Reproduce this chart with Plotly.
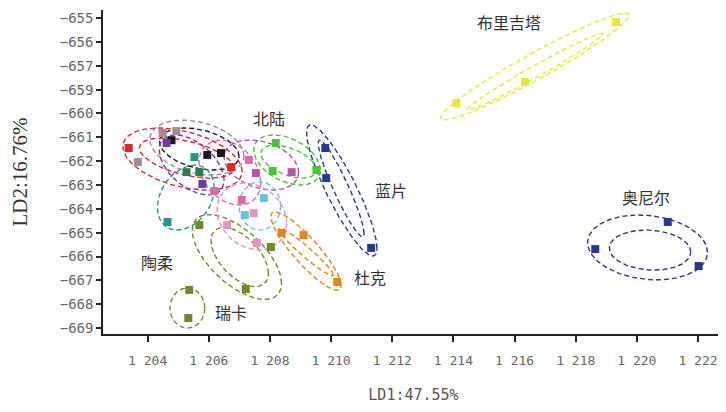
import numpy as np
import plotly.graph_objects as go

# ---------------- data (LD1, LD2 scores) ----------------
brigitta_x = [1219.32, 1216.34, 1214.10]
brigitta_y = [-655.17, -657.68, -658.56]
oneill_x = [1221.01, 1218.64, 1222.02]
oneill_y = [-663.55, -664.69, -665.40]
lanpian_x = [1209.81, 1209.84, 1211.31]
lanpian_y = [-660.45, -661.71, -664.64]
beilu_x = [1208.19, 1208.09, 1209.52]
beilu_y = [-660.24, -661.41, -661.37]
duke_x = [1208.38, 1209.10, 1210.20]
duke_y = [-664.01, -664.10, -666.07]
taorou_x = [1205.69, 1208.03, 1207.21]
taorou_y = [-663.68, -664.60, -666.36]
ruika_x = [1205.36, 1205.33]
ruika_y = [-666.40, -667.58]
red_x = [1203.38, 1206.73]
red_y = [-660.45, -661.25]
black_x = [1204.78, 1205.95, 1206.40]
black_y = [-660.12, -660.74, -660.66]
gray_x = [1203.68, 1204.49, 1204.94]
gray_y = [-661.04, -659.82, -659.74]
purple_x = [1204.62, 1205.79]
purple_y = [-660.24, -661.96]
teal_x = [1204.65, 1205.53]
teal_y = [-663.55, -660.83]
dgreen_x = [1205.27, 1205.69]
dgreen_y = [-661.46, -661.46]
pink_x = [1206.18, 1207.31, 1207.08]
pink_y = [-662.25, -660.95, -662.63]
mauve_x = [1207.54, 1208.71]
mauve_y = [-661.50, -661.46]
cyan_x = [1207.80, 1207.18]
cyan_y = [-662.55, -663.26]
lpink_x = [1207.47, 1206.60, 1207.57]
lpink_y = [-663.18, -663.68, -664.43]

# confidence ellipses: group, centre, half-extent in x / y, correlation
ell_group = ["brigitta", "brigitta", "oneill", "oneill", "lanpian", "lanpian",
             "beilu", "beilu", "duke", "duke", "taorou", "taorou", "ruika",
             "red", "red", "black", "gray", "purple", "teal", "pink", "mauve",
             "cyan", "lpink"]
ell_cx = [1216.66, 1216.68, 1220.35, 1220.43, 1210.35, 1210.33,
          1208.56, 1208.61, 1209.18, 1209.18, 1206.92, 1207.01, 1205.30,
          1205.14, 1205.27, 1205.69, 1205.61, 1205.44, 1205.25, 1206.69, 1207.72,
          1207.67, 1207.41]
ell_cy = [-657.03, -657.24, -664.62, -664.73, -662.23, -662.15,
          -660.95, -661.02, -664.77, -664.81, -665.02, -665.02, -667.16,
          -660.91, -660.87, -660.49, -660.43, -661.16, -662.53, -661.48, -661.16,
          -662.88, -663.32]
ell_rx = [3.08, 2.22, 1.96, 1.33, 1.15, 0.75,
          1.09, 0.91, 1.15, 0.89, 1.46, 0.94, 0.57,
          1.95, 1.54, 1.30, 1.54, 1.06, 0.93, 1.01, 1.22,
          0.68, 1.14]
ell_ry = [2.24, 1.61, 1.36, 0.84, 2.75, 2.03,
          1.05, 0.69, 1.64, 1.00, 1.78, 1.24, 0.84,
          1.30, 0.84, 0.88, 1.15, 1.26, 1.36, 1.36, 1.05,
          1.01, 1.40]
ell_rho = [0.96, 0.985, -0.15, -0.10, -0.88, -0.93,
           -0.40, -0.50, -0.88, -0.96, -0.62, -0.55, 0.0,
           -0.40, -0.50, -0.35, -0.30, -0.50, 0.30, -0.30, -0.30,
           0.0, -0.20]

# group labels
label_text = ["布里吉塔", "北陆", "蓝片", "奥尼尔", "陶柔", "杜克", "瑞卡"]
label_x = [1215.82, 1207.96, 1211.95, 1220.30, 1204.32, 1211.27, 1206.73]
label_y = [-655.17, -659.19, -662.21, -662.51, -665.23, -665.86, -667.33]

x_tick_vals = [1204, 1206, 1208, 1210, 1212, 1214, 1216, 1218, 1220, 1222]
x_tick_text = ["1 204", "1 206", "1 208", "1 210", "1 212", "1 214", "1 216",
               "1 218", "1 220", "1 222"]
y_tick_vals = [-655, -656, -657, -658, -659, -660, -661, -662, -663, -664,
               -665, -666, -667, -668]
y_tick_text = ["−655", "−656", "−657", "−659", "−660", "−661", "−662", "−663",
               "−664", "−665", "−666", "−667", "−668", "−669"]

# ---------------- styles ----------------
colors = {
    "brigitta": "#e2ea3c", "oneill": "#2b3592", "lanpian": "#283a8c",
    "beilu": "#4cc23a", "duke": "#e2841f", "taorou": "#6f8a2b",
    "ruika": "#6f8a2b", "red": "#e3232c", "black": "#1a1a1a",
    "gray": "#a08a96", "purple": "#6b3d9e", "teal": "#2a9488",
    "dgreen": "#2e7d4f", "pink": "#e068a8", "mauve": "#b25aa8",
    "cyan": "#66c6d8", "lpink": "#e494c4",
}
groups = {
    "brigitta": (brigitta_x, brigitta_y), "oneill": (oneill_x, oneill_y),
    "lanpian": (lanpian_x, lanpian_y), "beilu": (beilu_x, beilu_y),
    "duke": (duke_x, duke_y), "taorou": (taorou_x, taorou_y),
    "ruika": (ruika_x, ruika_y), "red": (red_x, red_y),
    "black": (black_x, black_y), "gray": (gray_x, gray_y),
    "purple": (purple_x, purple_y), "teal": (teal_x, teal_y),
    "dgreen": (dgreen_x, dgreen_y), "pink": (pink_x, pink_y),
    "mauve": (mauve_x, mauve_y), "cyan": (cyan_x, cyan_y),
    "lpink": (lpink_x, lpink_y),
}

fig = go.Figure()

t = np.linspace(0, 2 * np.pi, 160)
for g, cx, cy, rx, ry, rho in zip(ell_group, ell_cx, ell_cy, ell_rx, ell_ry, ell_rho):
    ex = cx + rx * np.cos(t)
    ey = cy + ry * (rho * np.cos(t) + np.sqrt(1 - rho ** 2) * np.sin(t))
    fig.add_trace(go.Scatter(x=ex, y=ey, mode="lines", hoverinfo="skip",
                             line=dict(color=colors[g], width=1.4, dash="5px,3px"),
                             showlegend=False))

for g, (gx, gy) in groups.items():
    fig.add_trace(go.Scatter(x=gx, y=gy, mode="markers", showlegend=False,
                             marker=dict(symbol="square", size=8, color=colors[g],
                                         line=dict(width=0))))

for txt, lx, ly in zip(label_text, label_x, label_y):
    fig.add_annotation(x=lx, y=ly, text=txt, showarrow=False,
                       font=dict(family="Noto Sans CJK SC", size=16, color="#333333"))

# the page body adds an 8px margin, so the figure is sized to fit inside it
fig.update_layout(
    width=718, height=396,
    margin=dict(l=95, r=2, t=2, b=70, autoexpand=False),
    paper_bgcolor="white", plot_bgcolor="white",
    showlegend=False,
)
fig.update_xaxes(
    range=[1202.54, 1222.85], tickvals=x_tick_vals, ticktext=x_tick_text,
    showgrid=False, zeroline=False, showline=True, linecolor="#222", linewidth=1.5,
    ticks="outside", ticklen=6, tickwidth=1.5, tickcolor="#222",
    tickfont=dict(family="DejaVu Sans Mono", size=13, color="#666"),
    ticklabeloverflow="allow", ticklabelstandoff=8,
    title=dict(text="LD1:47.55%", standoff=28,
               font=dict(family="DejaVu Sans Mono", size=15, color="#555")),
)
fig.update_yaxes(
    range=[-668.25, -654.66], tickvals=y_tick_vals, ticktext=y_tick_text,
    showgrid=False, zeroline=False, showline=True, linecolor="#222", linewidth=1.5,
    ticks="outside", ticklen=5, tickwidth=1.5, tickcolor="#222",
    tickfont=dict(family="DejaVu Sans Mono", size=14, color="#666"),
    title=dict(text="LD2:16.76%", standoff=26,
               font=dict(family="Liberation Serif", size=21, color="#333")),
)

fig.write_html("out.html")
